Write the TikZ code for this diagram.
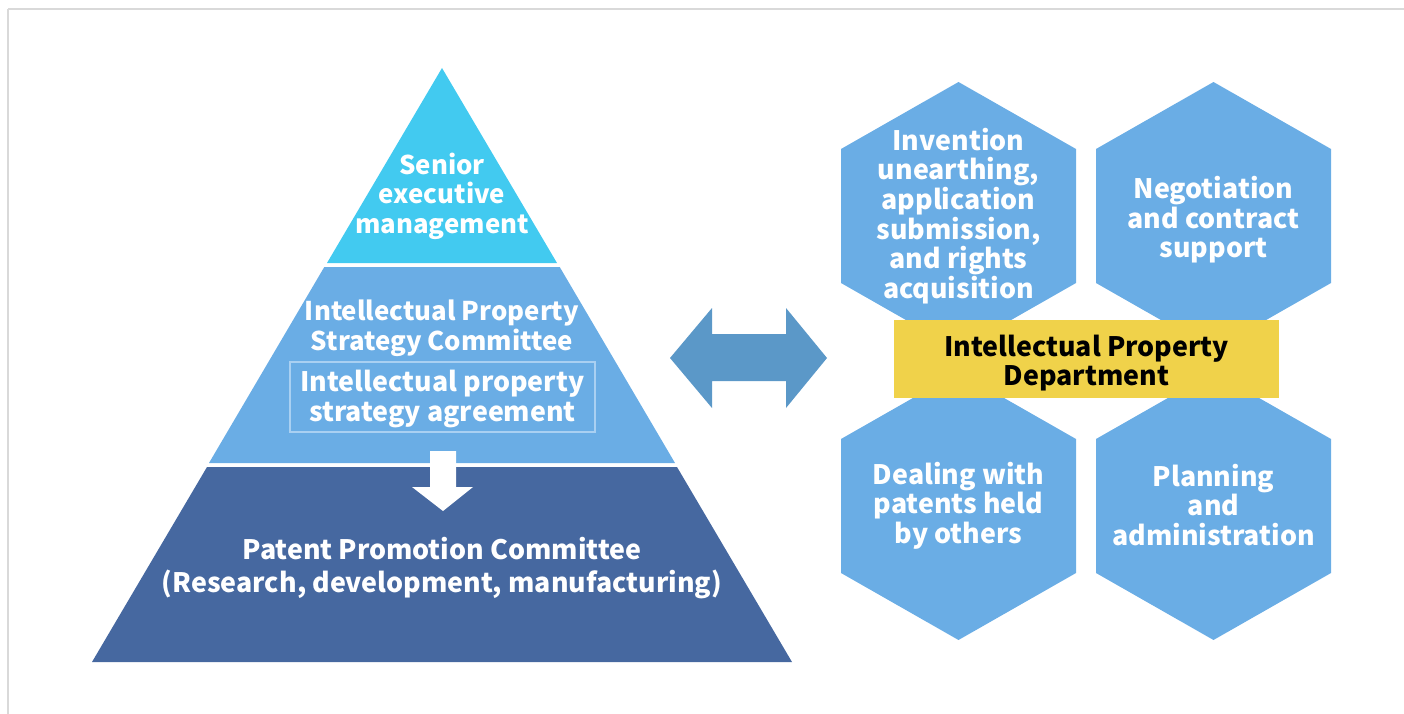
\documentclass[tikz,border=0pt]{standalone}
\usepackage{fontspec}
\setmainfont{Noto Sans CJK JP}
\begin{document}
\definecolor{topcyan}{HTML}{42CAF0}
\definecolor{midblue}{HTML}{6AADE5}
\definecolor{lowblue}{HTML}{4668A0}
\definecolor{arrowblue}{HTML}{5B98C8}
\definecolor{deptyellow}{HTML}{F0D24A}
\definecolor{framegray}{HTML}{D9D9D9}
\definecolor{boxline}{HTML}{A9D0F2}
\begin{tikzpicture}[x=1pt,y=-1pt,
  label/.style={text=white,align=center,font=\bfseries\fontsize{26.8}{29.6}\selectfont,inner sep=0pt},
  smalllabel/.style={label,font=\bfseries\fontsize{25.8}{29.6}\selectfont},
]
\useasboundingbox (0,0) rectangle (1404,714);
% frame lines
\draw[framegray,line width=2pt] (8,9) -- (1404,9);
\draw[framegray,line width=2pt] (8,9) -- (8,714);

% pyramid layers
\fill[topcyan] (442,68) -- (557,263) -- (327,263) -- cycle;
\fill[midblue] (324.3,267) -- (559.7,267) -- (675,463) -- (209,463) -- cycle;
\fill[lowblue] (207,467) -- (677,467) -- (792,662) -- (92,662) -- cycle;

\node[smalllabel] (senior) at (442,196) {Senior\\executive\\management};
\node[smalllabel] (ipsc) at (442,328) {Intellectual Property\\Strategy Committee};
\node[draw=boxline,line width=1.5pt,minimum width=305pt,minimum height=70pt,inner sep=0pt] (agreebox) at (442.5,397) {};
\node[label] (agree) at (442.5,399) {Intellectual property\\strategy agreement};
\node[label,font=\bfseries\fontsize{26.8}{32.5}\selectfont] (ppc) at (442,568) {Patent Promotion Committee\\(Research, development, manufacturing)};

% white downward arrow between the lower layers
\fill[white] (430,451) -- (456,451) -- (456,487) -- (473,487) -- (443,511) -- (412,487) -- (430,487) -- cycle;

% double arrow between the pyramid and the department
\fill[arrowblue] (670,358) -- (712,308) -- (712,334) -- (786,334) -- (786,308) -- (827,358)
  -- (786,408) -- (786,381) -- (712,381) -- (712,408) -- cycle;

% hexagons
\foreach \cx/\cy in {958.5/216,1213.5/216,958.5/506,1213.5/506}{
  \fill[midblue] (\cx,\cy-134) -- (\cx+117.5,\cy-67) -- (\cx+117.5,\cy+67) -- (\cx,\cy+134)
    -- (\cx-117.5,\cy+67) -- (\cx-117.5,\cy-67) -- cycle;
}
\node[label] (invention) at (958.5,216) {Invention\\unearthing,\\application\\submission,\\and rights\\acquisition};
\node[label] (negotiation) at (1213.5,220) {Negotiation\\and contract\\support};
\node[label] (dealing) at (958.5,505.5) {Dealing with\\patents held\\by others};
\node[label] (planning) at (1213.5,505) {Planning\\and\\administration};

% department box
\node[fill=deptyellow,minimum width=385pt,minimum height=78pt,inner sep=0pt] (deptbox) at (1086.5,359) {};
\node[label,text=black] (dept) at (1086.5,363) {Intellectual Property\\Department};
\end{tikzpicture}
\end{document}
